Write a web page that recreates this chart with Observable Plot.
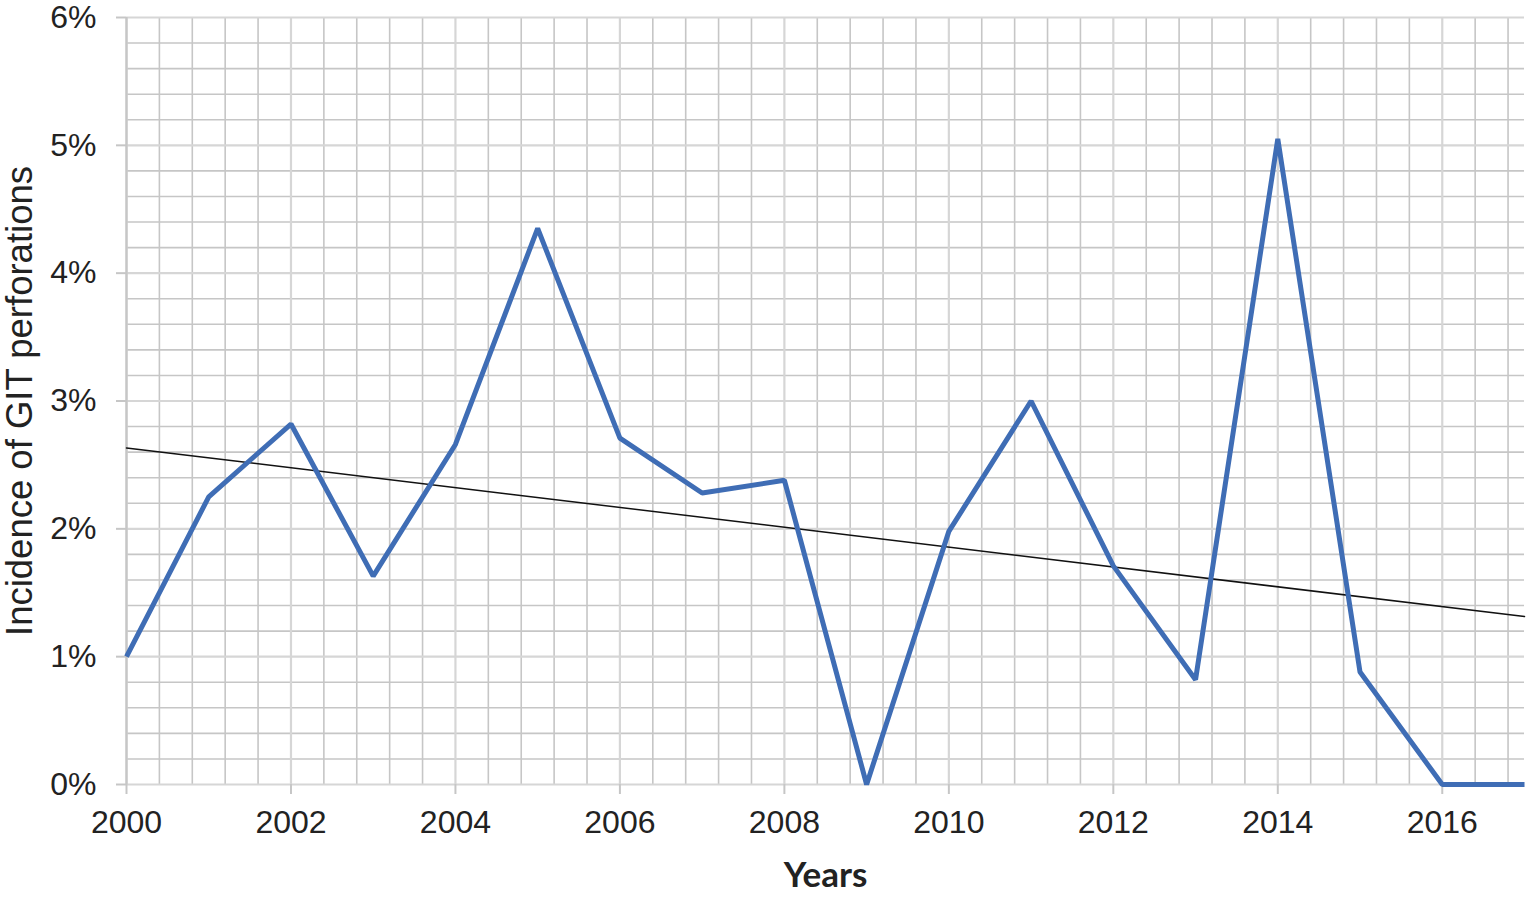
<!DOCTYPE html>
<html>
<head>
<meta charset="utf-8">
<script src="https://cdn.jsdelivr.net/npm/d3@7"></script>
<script src="https://cdn.jsdelivr.net/npm/@observablehq/plot@0.6"></script>
<style>
  html, body { margin: 0; padding: 0; background: #fff; }
  #chart svg { display: block; }
</style>
</head>
<body>
<div id="chart"></div>
<script>
const years = [2000, 2001, 2002, 2003, 2004, 2005, 2006, 2007, 2008, 2009, 2010, 2011, 2012, 2013, 2014, 2015, 2016, 2017];
const incidence = [1.00, 2.25, 2.82, 1.63, 2.66, 4.35, 2.71, 2.28, 2.38, 0.00, 1.98, 3.00, 1.71, 0.82, 5.05, 0.88, 0.00, 0.00];
const xTicks = [2000, 2002, 2004, 2006, 2008, 2010, 2012, 2014, 2016];
const yTicks = [0, 1, 2, 3, 4, 5, 6];
const xLabel = "Years";
const yLabel = "Incidence of GIT perforations";

const data = years.map((year, i) => ({year, value: incidence[i]}));
const xMinor = d3.range(0, 43).map(i => +(2000 + i * 0.4).toFixed(1)).filter(v => v <= 2017 && !xTicks.includes(v));
const yMinor = d3.range(0, 31).map(i => +(i * 0.2).toFixed(1)).filter(v => !yTicks.includes(v));

const chart = Plot.plot({
  width: 1526,
  height: 899,
  marginLeft: 126,
  marginRight: 2,
  marginTop: 17,
  marginBottom: 115,
  style: {fontFamily: "'Liberation Sans', Arial, sans-serif", fontSize: "30px", color: "#222"},
  x: {domain: [2000, 2017], axis: null},
  y: {domain: [0, 6], axis: null},
  marks: [
    Plot.ruleX(xMinor, {x: d => d, stroke: "#c6c6c6", strokeWidth: 1.6}),
    Plot.ruleY(yMinor, {y: d => d, stroke: "#c6c6c6", strokeWidth: 1.6}),
    Plot.ruleX(xTicks, {x: d => d, stroke: "#d6d6d6", strokeWidth: 2.2}),
    Plot.ruleY(yTicks, {y: d => d, stroke: "#d6d6d6", strokeWidth: 2.2}),
    Plot.ruleX([2000], {x: d => d, stroke: "#c6c6c6", strokeWidth: 2.2}),
    Plot.axisX(xTicks, {tickSize: 10, tickPadding: 16, stroke: "#c6c6c6", fill: "#222", strokeWidth: 2, fontSize: 32, tickFormat: d => String(d), label: null}),
    Plot.axisY(yTicks, {tickSize: 10, tickPadding: 20, stroke: "#c6c6c6", fill: "#222", strokeWidth: 2, fontSize: 32, tickFormat: d => d + "%", label: null}),
    Plot.linearRegressionY(data, {x: "year", y: "value", stroke: "#111", strokeWidth: 1.5, ci: 0}),
    Plot.line(data, {x: "year", y: "value", stroke: "#3f6db5", strokeWidth: 5, strokeLinejoin: "miter", strokeLinecap: "butt"}),
    Plot.text([xLabel], {text: d => d, frameAnchor: "bottom", lineAnchor: "middle", dy: 91, fontWeight: "bold", fontSize: 35, fontFamily: "Lato, 'Open Sans', sans-serif", fill: "#222"}),
    Plot.text([yLabel], {text: d => d, frameAnchor: "left", textAnchor: "middle", dx: -106, rotate: -90, fontSize: 36.5, fill: "#222"})
  ]
});
document.getElementById("chart").appendChild(chart);
</script>
</body>
</html>
